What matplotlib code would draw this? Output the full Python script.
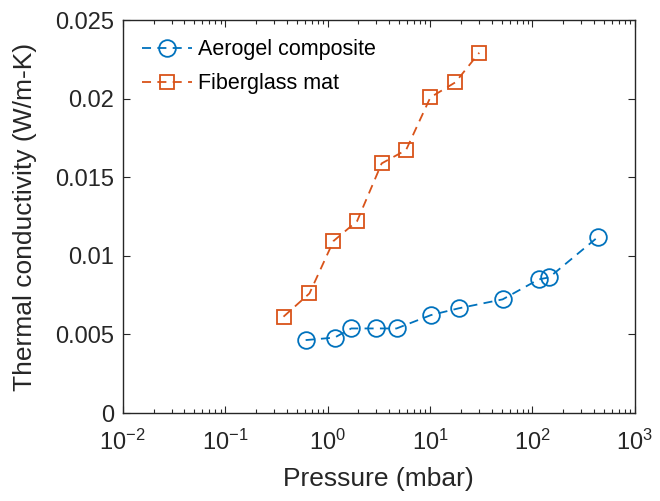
import numpy as np
import matplotlib
matplotlib.use("Agg")
import matplotlib.pyplot as plt
from matplotlib.ticker import LogLocator, NullFormatter

plt.rcParams['font.family'] = ['Liberation Sans', 'DejaVu Sans']
plt.rcParams['mathtext.fontset'] = 'custom'
plt.rcParams['mathtext.rm'] = 'Liberation Sans'

# aerogel composite
p_aero = [0.61, 1.17, 1.70, 2.99, 4.71, 10.2, 19.0, 51.1, 115, 146, 432]
k_aero = [0.00464, 0.0048, 0.00538, 0.00538, 0.00538, 0.00623, 0.00666,
          0.00723, 0.0085, 0.00863, 0.01118]

# fiberglass mat
p_fib = [0.371, 0.665, 1.14, 1.94, 3.37, 5.83, 10.07, 17.7, 30.2]
k_fib = [0.00613, 0.00761, 0.01094, 0.01221, 0.01588, 0.01673, 0.02008,
         0.02104, 0.02292]

yticks = [0, 0.005, 0.01, 0.015, 0.02, 0.025]
ylabels = ['0', '0.005', '0.01', '0.015', '0.02', '0.025']
xticks = [1e-2, 1e-1, 1e0, 1e1, 1e2, 1e3]
xlabels = [r'$\mathregular{10^{-2}}$', r'$\mathregular{10^{-1}}$',
           r'$\mathregular{10^{0}}$', r'$\mathregular{10^{1}}$',
           r'$\mathregular{10^{2}}$', r'$\mathregular{10^{3}}$']

fig = plt.figure(figsize=(6.6, 5.01), dpi=100)
ax = fig.add_axes([0.186, 0.1756, 0.776, 0.7844])

dash = (0, (5, 3.5))
ax.plot(p_aero, k_aero, ls=dash, marker='o', color='#0072BD', mfc='none',
        ms=12, mew=1.3, lw=1.3, label='Aerogel composite')
ax.plot(p_fib, k_fib, ls=dash, marker='s', color='#D95319', mfc='none',
        ms=9.5, mew=1.3, lw=1.3, label='Fiberglass mat')

ax.set_xscale('log')
ax.set_xlim(1e-2, 1e3)
ax.set_ylim(0, 0.025)
ax.set_yticks(yticks)
ax.set_yticklabels(ylabels)
ax.set_xticks(xticks)
ax.set_xticklabels(xlabels)
ax.xaxis.set_minor_locator(LogLocator(base=10, subs=np.arange(2, 10), numticks=20))
ax.xaxis.set_minor_formatter(NullFormatter())

ax.tick_params(which='both', direction='in', top=True, right=True,
               labelsize=17, colors='#262626', width=0.8)
ax.tick_params(which='major', length=5)
ax.tick_params(axis='y', which='major', pad=6)
ax.tick_params(axis='x', which='major', pad=12)
ax.tick_params(which='minor', length=3)
for s in ax.spines.values():
    s.set_color('#262626')
    s.set_linewidth(1.0)

ax.set_xlabel('Pressure (mbar)', fontsize=19, color='#262626', labelpad=9)
ax.set_ylabel('Thermal conductivity (W/m-K)', fontsize=19, color='#262626',
              labelpad=13)

ax.legend(loc='upper left', frameon=False, fontsize=15.5, handlelength=2.3,
          handletextpad=0.3, borderaxespad=0.5, labelspacing=0.6,
          borderpad=0.4)

fig.savefig('out.png', dpi=100)
